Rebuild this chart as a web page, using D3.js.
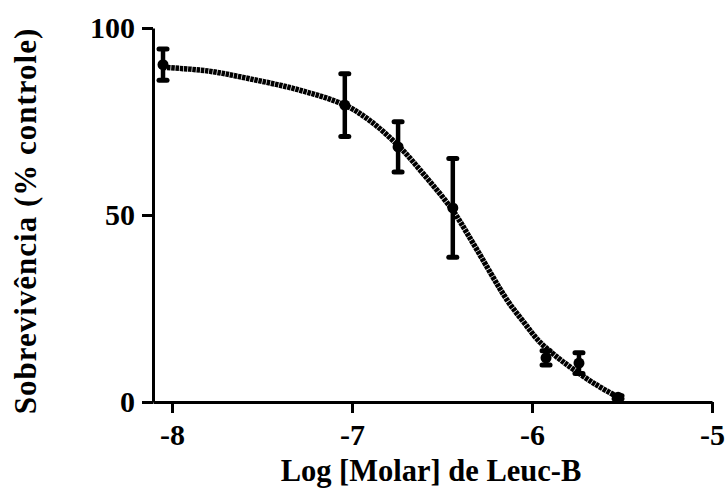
<!DOCTYPE html>
<html>
<head>
<meta charset="utf-8">
<script src="https://cdn.jsdelivr.net/npm/d3@7"></script>
<style>
  body { margin: 0; background: #fff; }
  svg text { font-family: "Liberation Serif", "Times New Roman", serif; font-weight: bold; }
</style>
</head>
<body>
<div id="chart"></div>
<script>
// measured points (log molar, % survival, SEM)
var logDose = [-8.05, -7.04, -6.744, -6.44, -5.922, -5.739, -5.522];
var survival = [90.2, 79.4, 68.2, 51.9, 11.8, 10.4, 1.3];
var sem = [4.2, 8.4, 6.7, 13.2, 1.9, 2.8, 0.4];

// fitted curve
var curveX = [-8.05, -7.8, -7.567, -7.3, -7.04, -6.9, -6.744, -6.6, -6.44, -6.328, -6.139, -6.05, -5.956, -5.85, -5.772, -5.65, -5.522];
var curveY = [89.5, 88.5, 86.4, 83.5, 79.4, 75.2, 68.6, 60.8, 51.2, 42.5, 27.3, 21.6, 16.0, 11.6, 8.8, 4.8, 1.3];

var xTicks = [-8, -7, -6, -5];
var yTicks = [0, 50, 100];

var w = 727, h = 492;
var svg = d3.select("#chart").append("svg")
  .attr("width", w)
  .attr("height", h);

var x = d3.scaleLinear().domain([-8.1056, -5]).range([153, 712]);
var y = d3.scaleLinear().domain([0, 100]).range([402, 28]);

// axes
var xAxis = svg.append("g")
  .attr("transform", "translate(0," + y(0) + ")")
  .call(d3.axisBottom(x).tickValues(xTicks).tickSize(11).tickSizeOuter(0).tickPadding(11)
    .tickFormat(function(d) { return d; }));
var yAxis = svg.append("g")
  .attr("transform", "translate(" + x.range()[0] + ",0)")
  .call(d3.axisLeft(y).tickValues(yTicks).tickSize(11).tickSizeOuter(0).tickPadding(7));

[xAxis, yAxis].forEach(function(g) {
  g.selectAll("path, line").attr("stroke", "#000").attr("stroke-width", 3);
  g.selectAll("text").attr("fill", "#000").style("font-size", "30px");
});
xAxis.selectAll("text").text(function(d) { return d < 0 ? "-" + Math.abs(d) : d; });

// curve
var line = d3.line()
  .x(function(d) { return x(d[0]); })
  .y(function(d) { return y(d[1]); })
  .curve(d3.curveCatmullRom);
svg.append("path")
  .datum(d3.zip(curveX, curveY))
  .attr("d", line)
  .attr("fill", "none")
  .attr("stroke", "#000")
  .attr("stroke-width", 5.5)
  .attr("stroke-dasharray", "3.5,0.7");

// error bars
var pts = d3.zip(logDose, survival, sem);
var bars = svg.append("g").selectAll("g").data(pts).enter().append("g");
bars.append("line")
  .attr("x1", function(d) { return x(d[0]); })
  .attr("x2", function(d) { return x(d[0]); })
  .attr("y1", function(d) { return y(d[1] + d[2]); })
  .attr("y2", function(d) { return y(d[1] - d[2]); })
  .attr("stroke", "#000").attr("stroke-width", 4.5);
[1, -1].forEach(function(s) {
  bars.append("line")
    .attr("x1", function(d) { return x(d[0]) - 4; })
    .attr("x2", function(d) { return x(d[0]) + 4; })
    .attr("y1", function(d) { return y(d[1] + s * d[2]); })
    .attr("y2", function(d) { return y(d[1] + s * d[2]); })
    .attr("stroke", "#000").attr("stroke-width", 5).attr("stroke-linecap", "round");
});
bars.append("circle")
  .attr("cx", function(d) { return x(d[0]); })
  .attr("cy", function(d) { return y(d[1]); })
  .attr("r", 5.5)
  .attr("fill", "#000");

// axis titles
svg.append("text")
  .attr("x", 431).attr("y", 481)
  .attr("text-anchor", "middle")
  .style("font-size", "30.5px")
  .text("Log [Molar] de Leuc-B");
svg.append("text")
  .attr("transform", "translate(36,221) rotate(-90)")
  .attr("text-anchor", "middle")
  .style("font-size", "31px")
  .style("letter-spacing", "1px")
  .text("Sobrevivência (% controle)");
</script>
</body>
</html>
